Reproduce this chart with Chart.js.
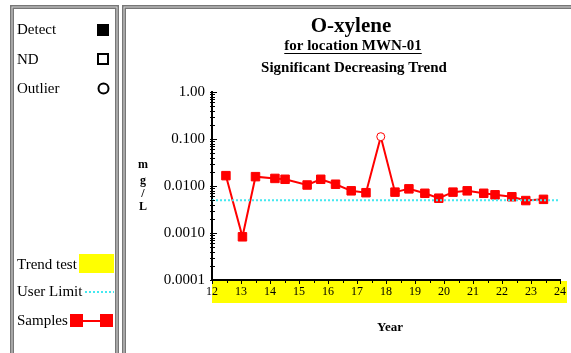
<!DOCTYPE html>
<html>
<head>
<meta charset="utf-8">
<script src="https://cdn.jsdelivr.net/npm/chart.js@4"></script>
<style>
  body { margin: 0; background: #fff; }
  canvas { display: block; }
</style>
</head>
<body>
<canvas id="trendChart" width="571" height="353"></canvas>
<script>
// sample dates (years since 2000) and concentrations, mg/L
const years = [12.48, 13.05, 13.5, 14.17, 14.52, 15.28, 15.75, 16.26, 16.8, 17.31, 17.82,
               18.31, 18.79, 19.34, 19.82, 20.31, 20.8, 21.37, 21.76, 22.34, 22.82, 23.43];
const values = [0.0166, 0.00083, 0.0158, 0.0145, 0.0139, 0.0105, 0.0139, 0.0109, 0.0079, 0.0072, 0.112,
                0.0074, 0.0087, 0.0070, 0.0055, 0.0074, 0.0079, 0.0070, 0.0065, 0.0059, 0.0049, 0.0052];
const outlierIndex = [10];
const userLimit = 0.005;
const yTicks = [0.0001, 0.001, 0.01, 0.1, 1];
const yTickLabels = ["0.0001", "0.0010", "0.0100", "0.100", "1.00"];
const xRange = [12, 24];

const SERIF = "'Liberation Serif', 'DejaVu Serif', serif";
const RED = "#ff0000";
const CYAN = "#44e8f0";

// frame, legend panel and titles
const decorPlugin = {
    id: "decor",
    beforeDraw(chart) {
        const ctx = chart.ctx;
        const area = chart.chartArea;
        ctx.save();
        ctx.fillStyle = "#fff";
        ctx.fillRect(0, 0, chart.width, chart.height);

        // double panel borders
        function panel(x, y, w, h) {
            ctx.strokeStyle = "#777";
            ctx.lineWidth = 4;
            ctx.strokeRect(x, y, w, h);
            ctx.strokeStyle = "#d8d8d8";
            ctx.lineWidth = 1;
            ctx.strokeRect(x, y, w, h);
        }
        panel(12, 7, 105, 400);
        panel(124, 7, 500, 400);

        // yellow trend test band under the x axis
        ctx.fillStyle = "#ffff00";
        ctx.fillRect(area.left, area.bottom + 1, 567 - area.left, 22);
        ctx.restore();
    },
    afterDraw(chart) {
        const ctx = chart.ctx;
        const area = chart.chartArea;
        const xs = chart.scales.x;
        const ys = chart.scales.y;
        ctx.save();

        // minor / major ticks
        ctx.strokeStyle = "#000";
        ctx.lineWidth = 1;
        ctx.beginPath();
        for (let d = -4; d <= 0; d++) {
            for (let k = 1; k <= 9; k++) {
                const v = k * Math.pow(10, d);
                if (v > 1) break;
                const py = Math.round(ys.getPixelForValue(v)) + 0.5;
                const len = k === 1 ? 5 : 3;
                ctx.moveTo(area.left - 2, py);
                ctx.lineTo(area.left + len, py);
            }
        }
        for (let t = xRange[0]; t <= xRange[1]; t += 0.5) {
            const px = Math.round(xs.getPixelForValue(t)) + 0.5;
            const len = Number.isInteger(t) ? 4 : 3;
            ctx.moveTo(px, area.bottom);
            ctx.lineTo(px, area.bottom + len);
        }
        ctx.stroke();

        // titles
        ctx.fillStyle = "#000";
        ctx.textAlign = "center";
        ctx.textBaseline = "middle";
        ctx.font = "bold 21px " + SERIF;
        ctx.fillText("O-xylene", 351, 27);
        ctx.font = "bold 15px " + SERIF;
        ctx.fillText("for location MWN-01", 353, 46);
        const w = ctx.measureText("for location MWN-01").width;
        ctx.fillRect(353 - w / 2, 53, w, 1);
        ctx.fillText("Significant Decreasing Trend", 354, 68);

        // axis titles
        ctx.font = "bold 13px " + SERIF;
        ctx.fillText("Year", 390, 328);
        ctx.font = "bold 12px " + SERIF;
        [["m", 165], ["g", 181], ["/", 194], ["L", 207]].forEach(([ch, y]) => {
            ctx.fillText(ch, 143, y);
        });

        // legend panel
        ctx.textAlign = "left";
        ctx.font = "15px " + SERIF;
        ctx.fillText("Detect", 17, 30);
        ctx.fillText("ND", 17, 60);
        ctx.fillText("Outlier", 17, 89);
        ctx.fillText("Trend test", 17, 265);
        ctx.fillText("User Limit", 17, 292);
        ctx.fillText("Samples", 17, 321);

        ctx.fillRect(97, 24, 12, 12);
        ctx.strokeStyle = "#000";
        ctx.lineWidth = 2;
        ctx.strokeRect(98, 54, 10, 10);
        ctx.beginPath();
        ctx.arc(103.5, 88.5, 5, 0, Math.PI * 2);
        ctx.stroke();

        ctx.fillStyle = "#ffff00";
        ctx.fillRect(79, 254, 35, 19);

        ctx.strokeStyle = CYAN;
        ctx.lineWidth = 2;
        ctx.setLineDash([2, 2]);
        ctx.beginPath();
        ctx.moveTo(85, 292);
        ctx.lineTo(114, 292);
        ctx.stroke();
        ctx.setLineDash([]);

        ctx.strokeStyle = RED;
        ctx.lineWidth = 2;
        ctx.beginPath();
        ctx.moveTo(77, 321);
        ctx.lineTo(107, 321);
        ctx.stroke();
        ctx.fillStyle = RED;
        ctx.fillRect(70, 314, 13, 13);
        ctx.fillRect(100, 314, 13, 13);
        ctx.restore();
    }
};

const points = years.map((x, i) => ({ x: x, y: values[i] }));
const isOutlier = years.map((_, i) => outlierIndex.includes(i));

new Chart(document.getElementById("trendChart"), {
    type: "scatter",
    data: {
        datasets: [
            {
                label: "User Limit",
                data: [{ x: xRange[0], y: userLimit }, { x: xRange[1], y: userLimit }],
                showLine: true,
                borderColor: CYAN,
                borderWidth: 2,
                borderDash: [2, 2],
                pointRadius: 0
            },
            {
                label: "Samples",
                data: points,
                showLine: true,
                borderColor: RED,
                borderWidth: 2,
                pointStyle: isOutlier.map(o => o ? "circle" : "rect"),
                pointRadius: isOutlier.map(o => o ? 4 : 6),
                pointBackgroundColor: isOutlier.map(o => o ? "#fff" : RED),
                pointBorderColor: RED,
                pointBorderWidth: 1
            }
        ]
    },
    options: {
        responsive: false,
        animation: false,
        layout: { padding: { left: 130, top: 92, right: 8, bottom: 0 } },
        plugins: {
            legend: { display: false },
            tooltip: { enabled: false }
        },
        scales: {
            x: {
                type: "linear",
                min: xRange[0],
                max: xRange[1],
                grid: { display: false, drawTicks: false },
                border: { color: "#000", width: 2 },
                ticks: {
                    stepSize: 1,
                    padding: 5,
                    color: "#000",
                    font: { family: SERIF, size: 12 }
                },
                afterFit(scale) { scale.height = 73; }
            },
            y: {
                type: "logarithmic",
                min: yTicks[0],
                max: yTicks[yTicks.length - 1],
                grid: { display: false, drawTicks: false },
                border: { color: "#000", width: 2 },
                afterBuildTicks(scale) {
                    scale.ticks = yTicks.map(v => ({ value: v }));
                },
                ticks: {
                    padding: 7,
                    color: "#000",
                    font: { family: SERIF, size: 15 },
                    callback(value) {
                        const i = yTicks.indexOf(value);
                        return i >= 0 ? yTickLabels[i] : "";
                    }
                },
                afterFit(scale) { scale.width = 82; }
            }
        }
    },
    plugins: [decorPlugin]
});
</script>
</body>
</html>
